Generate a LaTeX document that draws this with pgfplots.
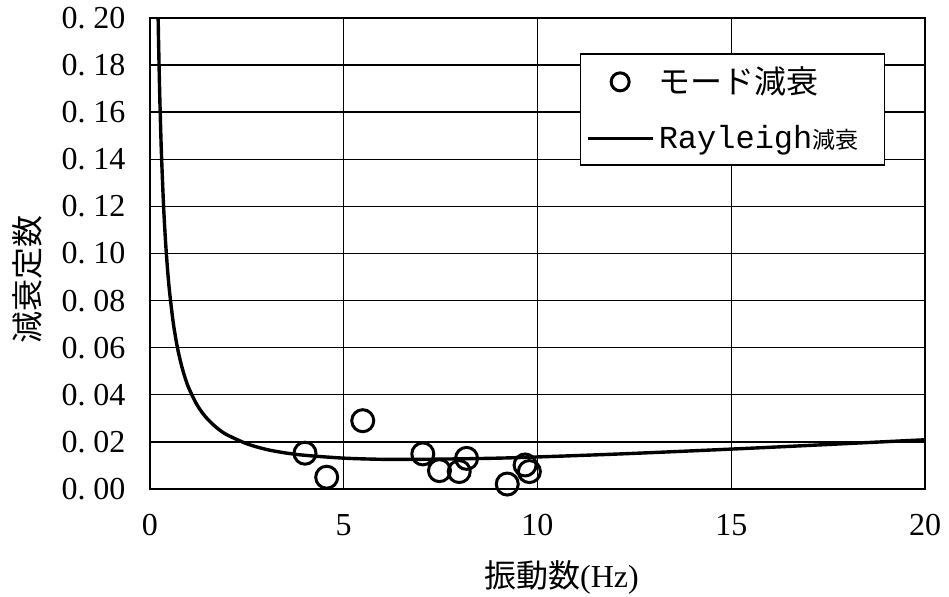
\documentclass[border=0pt]{standalone}
\usepackage{pgfplots}
\pgfplotsset{compat=1.18}
\usepackage{fontspec}
\setmainfont{Liberation Serif}
\setmonofont{Liberation Mono}
\newfontfamily\cjk{Noto Sans CJK JP}
\newcommand{\ff}{\fontsize{16}{19}\selectfont}
\begin{document}
\begin{tikzpicture}
\useasboundingbox (-75pt,-54pt) rectangle (399.5pt,244.5pt);
\begin{axis}[
  scale only axis, width=387.5pt, height=235.5pt,
  xmin=0, xmax=20, ymin=0, ymax=0.2,
  xtick={0,5,10,15,20},
  xticklabels={0,5,10,15,20},
  ytick={0,0.02,0.04,0.06,0.08,0.1,0.12,0.14,0.16,0.18,0.2},
  yticklabels={0.\hspace{0.25em}00,0.\hspace{0.25em}02,0.\hspace{0.25em}04,0.\hspace{0.25em}06,0.\hspace{0.25em}08,0.\hspace{0.25em}10,0.\hspace{0.25em}12,0.\hspace{0.25em}14,0.\hspace{0.25em}16,0.\hspace{0.25em}18,0.\hspace{0.25em}20},
  scaled y ticks=false,
  major tick length=0pt,
  grid=major,
  major grid style={black, line width=0.7pt},
  axis line style={black, line width=0.7pt},
  every tick label/.append style={font=\ff},
  xticklabel style={yshift=-9pt},
  yticklabel style={xshift=-8.7pt},
  label style={font=\ff},
  xlabel={{\cjk 振動数}(Hz)},
  ylabel={\cjk 減衰定数},
  xlabel style={at={(axis description cs:0.531,-0.187)}, anchor=center},
  ylabel style={at={(axis description cs:-0.1587,0.444)}, anchor=center},
  legend style={at={(axis description cs:0.5548,0.925)}, anchor=north west,
    draw=black, line width=0.6pt, fill=white, inner xsep=3pt, inner ysep=4.5pt,
    row sep=10.5pt, font=\ff,
    nodes={inner sep=2pt, text width=108pt, align=left}},
  legend cell align=left,
]
\addplot[only marks, mark=o, mark size=5.5pt, mark options={line width=1.5pt, black}, black,
  legend image code/.code={\path (0pt,0pt) (32.5pt,0pt);
    \draw[black, line width=1.5pt] (16pt,0pt) circle (4.5pt);}]
coordinates {
(4.00,0.0152) (4.56,0.0050) (5.49,0.0290) (7.04,0.0149) (7.47,0.0078)
(7.98,0.0074) (8.17,0.0130) (9.22,0.0021) (9.68,0.0102) (9.79,0.0074)
};
\addlegendentry{\cjk モード減衰}
\addplot[black, line width=1.7pt, smooth,
  legend image code/.code={\draw[black, line width=1.6pt] (0pt,0pt) -- (32.5pt,0pt);}]
table {
x y
0.20 0.2102
0.22 0.1911
0.25 0.1682
0.28 0.1503
0.30 0.1403
0.35 0.1203
0.40 0.1054
0.45 0.0938
0.50 0.0845
0.60 0.0706
0.70 0.0607
0.80 0.0533
0.90 0.0475
1.00 0.0429
1.20 0.0361
1.40 0.0313
1.60 0.0278
1.80 0.0250
2.00 0.0229
2.50 0.0192
3.00 0.0168
3.50 0.0153
4.00 0.0143
5.00 0.0131
6.00 0.0126
7.00 0.0126
8.00 0.0128
9.00 0.0131
10.00 0.0136
12.00 0.0148
14.00 0.0162
16.00 0.0177
18.00 0.0193
20.00 0.0209
};
\addlegendentry{{\ttfamily Rayleigh}{\cjk\fontsize{11.5}{14}\selectfont 減衰}}
\end{axis}
\end{tikzpicture}
\end{document}
